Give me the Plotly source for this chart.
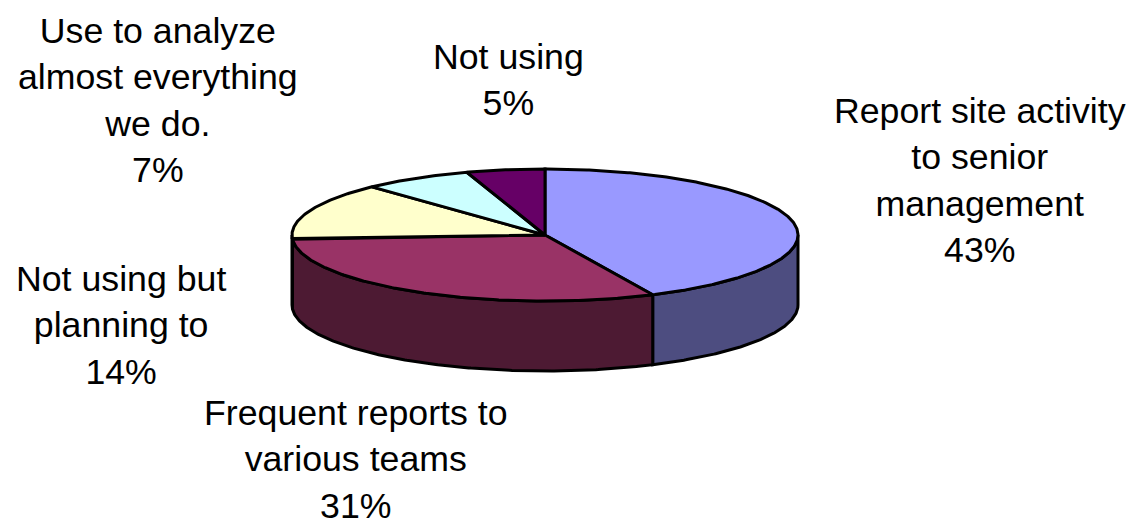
import math
import plotly.graph_objects as go

categories = ["Report site activity<br>to senior<br>management", "Frequent reports to<br>various teams",
              "Not using but<br>planning to", "Use to analyze<br>almost everything<br>we do.", "Not using"]
shares = [43, 31, 14, 7, 5]
top_colors = ["#9999FF", "#993366", "#FFFFCC", "#CCFFFF", "#660066"]
side_colors = ["#4D4D80", "#4D1A33", "#80806A", "#668080", "#330033"]
label_x = [980, 356, 121, 158, 508]
label_y = [180, 459, 325, 100, 80]

CX, CY, RX, RY, DEPTH = 545, 235, 253, 66, 70
EDGE = dict(color="black", width=3)


def rim(t, drop=0):
    r = math.radians(t)
    return CX + RX * math.sin(r), CY - RY * math.cos(r) + drop


def arc(a, b, drop=0):
    n = max(2, int(abs(b - a)) * 2)
    return [rim(a + (b - a) * i / n, drop) for i in range(n + 1)]


def poly(pts, fill):
    pts = pts + [pts[0]]
    return go.Scatter(x=[p[0] for p in pts], y=[p[1] for p in pts], mode="lines", fill="toself",
                      fillcolor=fill, line=EDGE, hoverinfo="skip", showlegend=False)


fig = go.Figure()
total = sum(shares)
spans = []
start = 0.0
for v in shares:
    end = start + 360 * v / total
    spans.append((start, end))
    start = end

# side walls (visible front half only: 90..270 degrees)
for (a, b), c in zip(spans, side_colors):
    lo, hi = max(a, 90), min(b, 270)
    if hi > lo:
        fig.add_trace(poly(arc(lo, hi) + arc(hi, lo, DEPTH), c))

# top faces
for (a, b), c in zip(spans, top_colors):
    fig.add_trace(poly([(CX, CY)] + arc(a, b), c))

for name, v, x, y in zip(categories, shares, label_x, label_y):
    fig.add_annotation(x=x, y=y, text=f"{name}<br>{v}%", showarrow=False, xanchor="center", yanchor="middle",
                       align="center", font=dict(family="Liberation Sans", size=35.7, color="black"))

fig.update_xaxes(range=[0, 1131], visible=False, fixedrange=True)
fig.update_yaxes(range=[521, 0], visible=False, fixedrange=True)
fig.update_layout(width=1131, height=521, margin=dict(l=0, r=0, t=0, b=0), paper_bgcolor="white",
                  plot_bgcolor="white", showlegend=False)
fig.write_html("out.html", config={"displayModeBar": False},
               post_script="document.body.style.margin='0';document.documentElement.style.overflow='hidden';")
